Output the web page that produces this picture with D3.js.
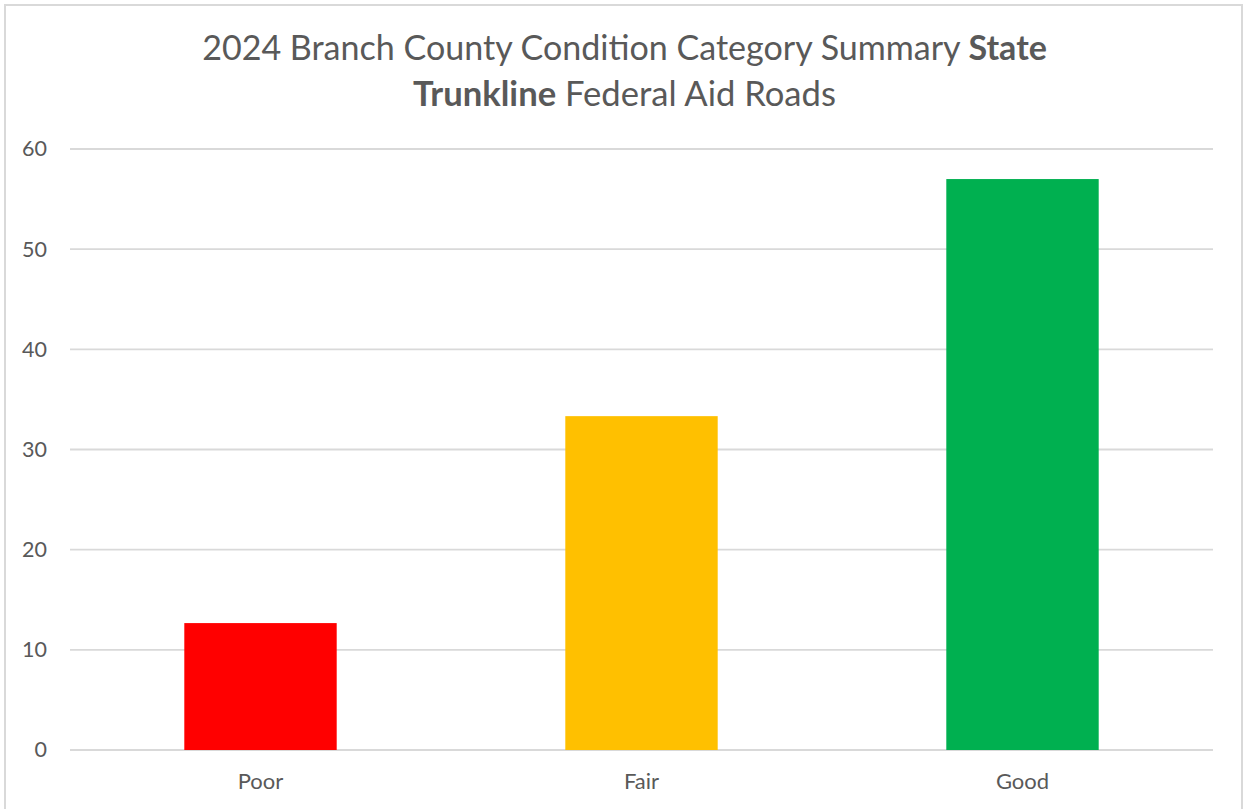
<!DOCTYPE html>
<html><head><meta charset="utf-8">
<script src="https://cdn.jsdelivr.net/npm/d3@7"></script>
<style>html,body{margin:0;padding:0;background:#fff;}svg{display:block;}</style>
</head><body>
<svg id="chart" width="1245" height="809"></svg>
<script>
const categories = ["Poor", "Fair", "Good"];
const values = [12.67, 33.33, 57.0];
const colors = ["#FF0000", "#FFC000", "#00B050"];
const yTicks = [0, 10, 20, 30, 40, 50, 60];
const titleLine1 = [{t: "2024 Branch County Condition Category Summary ", b: false}, {t: "State", b: true}];
const titleLine2 = [{t: "Trunkline", b: true}, {t: " Federal Aid Roads", b: false}];

const svg = d3.select("#chart");
const font = "Lato, 'Open Sans', sans-serif";
const textColor = "#595959";

svg.append("rect").attr("x", 5).attr("y", 5).attr("width", 1237).attr("height", 820)
  .attr("fill", "#fff").attr("stroke", "#d9d9d9").attr("stroke-width", 2);

const m = {left: 70, right: 1213, top: 149, bottom: 750};
const x = d3.scaleBand().domain(categories).range([m.left, m.right]).paddingInner(0.6).paddingOuter(0.3);
const y = d3.scaleLinear().domain([0, 60]).range([m.bottom, m.top]);

// gridlines
svg.append("g").selectAll("line").data(yTicks).join("line")
  .attr("x1", m.left).attr("x2", m.right)
  .attr("y1", d => y(d)).attr("y2", d => y(d))
  .attr("stroke", "#d9d9d9").attr("stroke-width", 1.8);

// y axis labels
const yAxis = d3.axisLeft(y).tickValues(yTicks).tickSize(0).tickPadding(0);
const gy = svg.append("g").attr("transform", `translate(47,0)`).call(yAxis);
gy.select(".domain").remove();
gy.selectAll("text").attr("fill", textColor).style("font-family", font).style("font-size", "21.5px");

// bars
svg.append("g").selectAll("rect").data(categories).join("rect")
  .attr("x", d => x(d)).attr("width", x.bandwidth())
  .attr("y", (d, i) => y(values[i])).attr("height", (d, i) => y(0) - y(values[i]))
  .attr("fill", (d, i) => colors[i]);

// x axis labels
const xAxis = d3.axisBottom(x).tickSize(0).tickPadding(0);
const gx = svg.append("g").attr("transform", `translate(0,773)`).call(xAxis);
gx.select(".domain").remove();
gx.selectAll("text").attr("fill", textColor).style("font-family", font).style("font-size", "22px").attr("dy", "0.71em");

// title
function titleLine(parts, yPos, targetWidth) {
  const t = svg.append("text").attr("x", 624.5).attr("y", yPos).attr("text-anchor", "middle")
    .attr("fill", textColor).style("font-family", font).style("font-size", "36px");
  parts.forEach(p => t.append("tspan").text(p.t).style("font-weight", p.b ? "bold" : "normal"));
  const w = t.node().getComputedTextLength();
  const fs = 36 * targetWidth / w;
  t.style("font-size", Math.min(fs, 40) + "px");
  return t;
}
titleLine(titleLine1, 60, 845);
titleLine(titleLine2, 106, 423);
</script>
</body></html>
